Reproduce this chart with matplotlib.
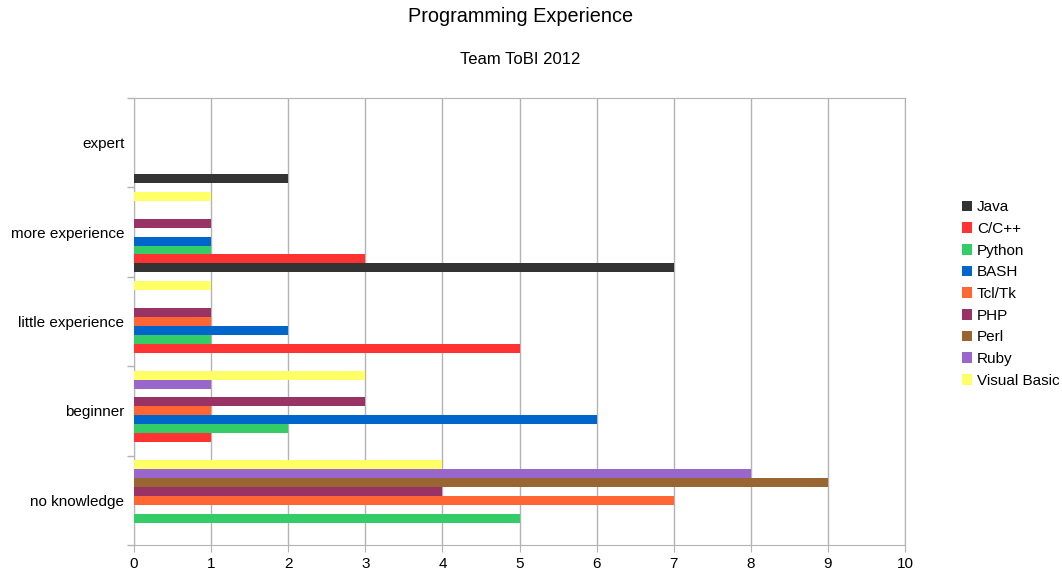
import matplotlib.pyplot as plt
import numpy as np

plt.rcParams['font.family'] = ['Liberation Sans', 'DejaVu Sans']

levels = ['no knowledge', 'beginner', 'little experience', 'more experience', 'expert']
languages = ['Java', 'C/C++', 'Python', 'BASH', 'Tcl/Tk', 'PHP', 'Perl', 'Ruby', 'Visual Basic']
# counts per language, in the order of levels above
java = [0, 0, 0, 7, 2]
c_cpp = [0, 1, 5, 3, 0]
python = [5, 2, 1, 1, 0]
bash = [0, 6, 2, 1, 0]
tcl_tk = [7, 1, 1, 0, 0]
php = [4, 3, 1, 1, 0]
perl = [9, 0, 0, 0, 0]
ruby = [8, 1, 0, 0, 0]
visual_basic = [4, 3, 1, 1, 0]

series = [java, c_cpp, python, bash, tcl_tk, php, perl, ruby, visual_basic]
colors = ['#333333', '#ff3333', '#33cc66', '#0066cc', '#ff6633',
          '#993366', '#996633', '#9966cc', '#ffff66']

fig = plt.figure(figsize=(10.62, 5.74), dpi=100)
ax = fig.add_axes([134 / 1062, 1 - 545 / 574, (905 - 134) / 1062, (545 - 98) / 574])

y = np.arange(len(levels))
h = 0.1
for j, (vals, name, c) in enumerate(zip(series, languages, colors)):
    ax.barh(y + (j - 4) * h, vals, height=h, color=c, label=name, zorder=3)

ax.set_xlim(0, 10)
ax.set_ylim(-0.5, len(levels) - 0.5)
ax.set_xticks(range(11))
ax.set_yticks(y)
ax.set_yticklabels(levels)
ax.set_yticks(np.arange(-0.5, len(levels), 1), minor=True)
ax.tick_params(axis='y', which='major', length=0, pad=7, labelsize=11)
ax.tick_params(axis='y', which='minor', length=5, color='#b3b3b3', width=1)
ax.tick_params(axis='x', length=5, color='#b3b3b3', labelsize=11)
ax.grid(axis='x', color='#b3b3b3', linewidth=1, zorder=0)
for s in ax.spines.values():
    s.set_color('#b3b3b3')

fig.text(521 / 1062, 1 - 17 / 574, 'Programming Experience', ha='center', va='center', fontsize=14.3)
fig.text(520 / 1062, 1 - 60 / 574, 'Team ToBI 2012', ha='center', va='center', fontsize=12)

handles, labels = ax.get_legend_handles_labels()
fig.legend(handles, labels, loc='center left', bbox_to_anchor=(948 / 1062, 1 - 294 / 574),
           frameon=False, fontsize=11, handlelength=0.7, handleheight=0.7,
           handletextpad=0.3, labelspacing=0.5)

fig.savefig('out.png', dpi=100)
